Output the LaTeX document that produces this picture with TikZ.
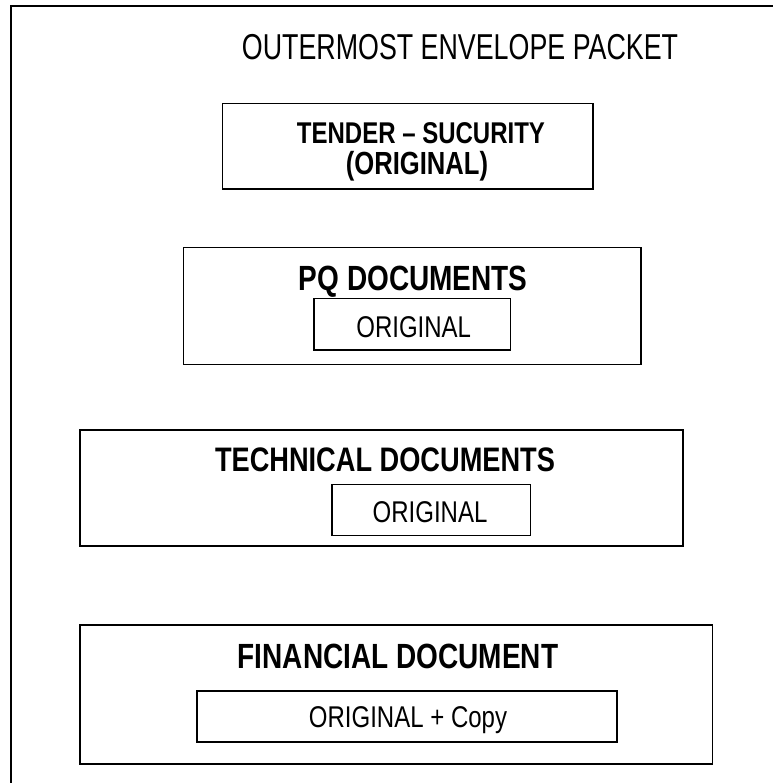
\documentclass[tikz,border=0pt]{standalone}
\usepackage{fontspec}
\setmainfont{Liberation Sans}
\newfontfamily\nar{Liberation Sans}[FakeStretch=0.8]
\newfontfamily\narttl{Liberation Sans}[FakeStretch=0.745]
\begin{document}
\begin{tikzpicture}[x=1pt,y=-1pt,
  box/.style={draw, line width=1.5pt, inner sep=0pt, outer sep=0pt},
  lbl/.style={anchor=base, inner sep=0pt},
  ttl/.style={lbl, font=\narttl\fontsize{36}{40}\selectfont},
  head/.style={lbl, font=\nar\bfseries\fontsize{35}{40}\selectfont},
  tend/.style={lbl, font=\nar\bfseries\fontsize{30}{36}\selectfont},
  orig/.style={lbl, font=\nar\fontsize{30}{34}\selectfont}]
\useasboundingbox (0,0) rectangle (772,783);
% outermost envelope (extends past the page)
\node[box, line width=2pt, anchor=north west, minimum width=800pt, minimum height=800pt] (outer) at (10.5,6.5) {};
\node[ttl] (title) at (460,60) {OUTERMOST ENVELOPE PACKET};
% tender security
\node[box, minimum width=370.3pt, minimum height=85.7pt] (tender) at (407.85,146.15) {};
\node[tend] (tender1) at (421,144) {TENDER – SUCURITY};
\node[tend, font=\nar\bfseries\fontsize{32}{36}\selectfont] (tender2) at (417,175) {(ORIGINAL)};
% PQ documents
\node[box, minimum width=457.7pt, minimum height=116.6pt] (pq) at (412.15,306) {};
\node[head] (pqt) at (413.3,290) {PQ DOCUMENTS};
\node[box, minimum width=196.7pt, minimum height=51.7pt] (pqo) at (412.35,324.15) {};
\node[orig] (pqot) at (413.7,337) {ORIGINAL};
% technical documents
\node[box, minimum width=603pt, minimum height=116pt] (tech) at (381.5,488) {};
\node[head, font=\nar\bfseries\fontsize{34}{40}\selectfont] (techt) at (385,471.7) {TECHNICAL DOCUMENTS};
\node[box, minimum width=198.7pt, minimum height=51.4pt] (techo) at (431.35,510) {};
\node[orig] (techot) at (430,522) {ORIGINAL};
% financial document
\node[box, minimum width=632.7pt, minimum height=139pt] (fin) at (396.35,694.5) {};
\node[head] (fint) at (398,668.3) {FINANCIAL DOCUMENT};
\node[box, minimum width=420pt, minimum height=51pt] (fino) at (407,716.5) {};
\node[orig] (finot) at (408,727) {ORIGINAL + Copy};
\end{tikzpicture}
\end{document}
